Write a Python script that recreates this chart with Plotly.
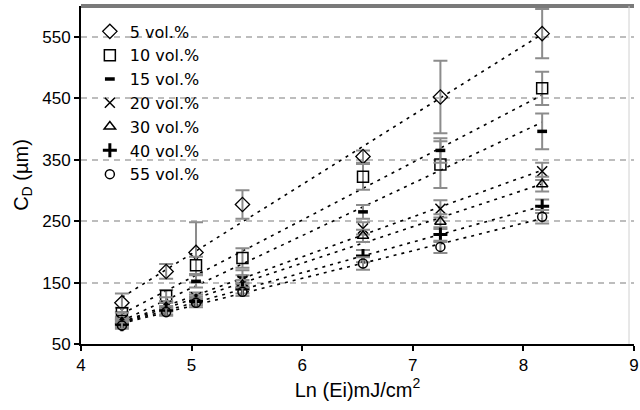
import numpy as np
import plotly.graph_objects as go

ln_ei = [4.37, 4.77, 5.04, 5.46, 6.55, 7.25, 8.17]

series_names = ["5 vol.%", "10 vol.%", "15 vol.%", "20 vol.%", "30 vol.%", "40 vol.%", "55 vol.%"]

cd_5 = [117, 168, 199, 277, 355, 452, 555]
cd_10 = [100, 128, 178, 190, 322, 342, 466]
cd_15 = [95, 118, 152, 160, 265, 365, 396]
cd_20 = [88, 112, 126, 153, 238, 270, 331]
cd_30 = [85, 110, 122, 146, 226, 249, 310]
cd_40 = [82, 105, 120, 140, 193, 228, 274]
cd_55 = [80, 102, 117, 135, 181, 208, 257]

err_5 = [15, 12, 49, 23, 10, 59, 40]
err_10 = [9, 10, 14, 16, 21, 38, 27]
err_15 = [6, 8, 10, 10, 11, 20, 29]
err_20 = [6, 8, 8, 9, 10, 14, 14]
err_30 = [6, 7, 8, 8, 10, 12, 12]
err_40 = [5, 7, 7, 8, 10, 12, 11]
err_55 = [5, 6, 7, 7, 10, 10, 11]

values = [cd_5, cd_10, cd_15, cd_20, cd_30, cd_40, cd_55]
errors = [err_5, err_10, err_15, err_20, err_30, err_40, err_55]

symbols = ["diamond-open", "square-open", "line-ew", "x-thin", "triangle-up-open", "cross-thin", "circle-open"]
sizes = [11, 11, 7, 10, 10, 10, 9]
line_widths = [1.3, 1.5, 3.5, 1.5, 1.5, 3, 1.5]

x_ticks = [4, 5, 6, 7, 8, 9]
y_ticks = [50, 150, 250, 350, 450, 550]

fig = go.Figure()

# trend lines (least-squares fits of each series)
xa = np.array(ln_ei)
for vals in values:
    k, b = np.polyfit(xa, np.array(vals), 1)
    xs = [ln_ei[0], ln_ei[-1]]
    fig.add_trace(go.Scatter(
        x=xs, y=[k * v + b for v in xs], mode="lines",
        line=dict(color="black", width=1.6, dash="3px,5px"),
        showlegend=False, hoverinfo="skip"))

for name, vals, errs, sym, sz, lw in zip(series_names, values, errors, symbols, sizes, line_widths):
    fig.add_trace(go.Scatter(
        x=ln_ei, y=vals, mode="markers", name=name,
        marker=dict(symbol=sym, size=sz, color="black",
                    line=dict(color="black", width=lw)),
        error_y=dict(type="data", array=errs, visible=True,
                     color="#8c8c8c", thickness=2, width=7),
    ))

fig.update_layout(
    width=640, height=410,
    margin=dict(l=81, r=1, t=6, b=66),
    paper_bgcolor="white", plot_bgcolor="white",
    font=dict(family="Arial, Liberation Sans", size=17, color="black"),
    showlegend=True,
    legend=dict(x=0.016, y=0.975, xanchor="left", yanchor="top",
                bgcolor="rgba(0,0,0,0)", font=dict(size=16, family="DejaVu Sans"),
                itemwidth=30, tracegroupgap=0),
    xaxis=dict(range=[4, 9.0005], tickvals=x_ticks, showgrid=False, zeroline=False,
               showline=True, linecolor="black", linewidth=2,
               ticks="outside", ticklen=5, tickwidth=2, tickcolor="black",
               ticklabeloverflow="allow",
               title=dict(text="Ln (Ei)mJ/cm<sup>2</sup>", font=dict(size=20), standoff=4)),
    yaxis=dict(range=[50, 600], tickvals=y_ticks, showgrid=True,
               gridcolor="#bdbdbd", gridwidth=1.5, griddash="6px,5px",
               zeroline=False, showline=True, linecolor="black", linewidth=2,
               ticks="outside", ticklen=5, tickwidth=2, tickcolor="black",
               title=dict(text="C<sub>D</sub> (µm)", font=dict(size=20), standoff=8)),
    shapes=[
        dict(type="line", xref="paper", yref="paper", x0=0, x1=1, y0=1, y1=1,
             line=dict(color="#7a7a7a", width=4)),
        dict(type="line", xref="paper", yref="paper", x0=0.991, x1=0.991, y0=0, y1=1,
             line=dict(color="#d0d0d0", width=1)),
    ],
)

fig.write_html("out.html",
               config={"displayModeBar": False},
               post_script="document.body.style.margin='0';document.body.style.overflow='hidden';")
